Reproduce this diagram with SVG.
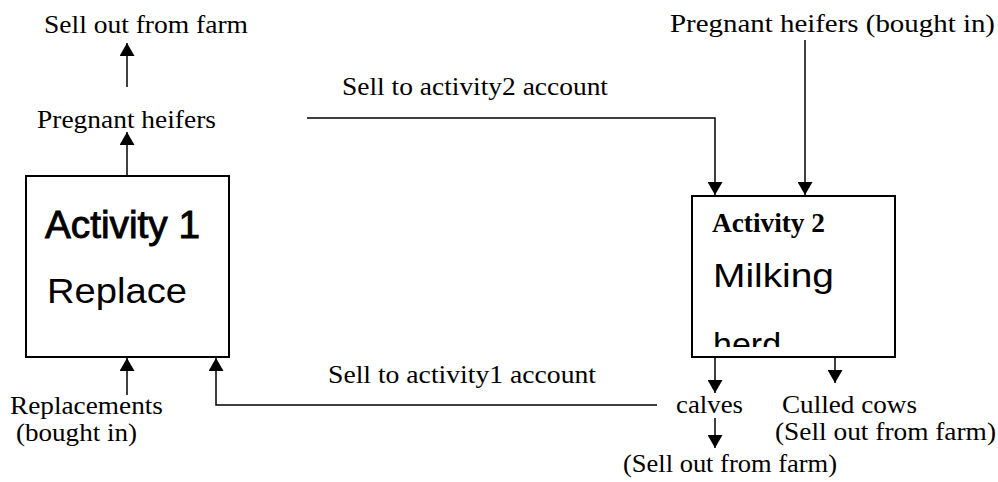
<svg xmlns="http://www.w3.org/2000/svg" width="998" height="482" viewBox="0 0 998 482">
  <style>
    .box { fill: #ffffff; stroke: #000000; stroke-width: 2; }
    .conn { fill: none; stroke: #000000; stroke-width: 1.5; }
    .lbl { font-family: "Liberation Serif", "Times New Roman", serif; font-size: 26px; fill: #000000; }
    .sans { font-family: "Liberation Sans", Arial, sans-serif; fill: #000000; }
  </style>
  <defs>
    <marker id="arrow" markerUnits="userSpaceOnUse" markerWidth="14" markerHeight="15" refX="13" refY="7.5" orient="auto">
      <path d="M0,0 L13,7.5 L0,15 z" fill="#000000"/>
    </marker>
    <clipPath id="clip2">
      <rect x="693" y="197" width="201" height="150"/>
    </clipPath>
  </defs>

  <g id="connectors">
    <line class="conn" x1="127" y1="87" x2="127" y2="43" marker-end="url(#arrow)"/>
    <line class="conn" x1="127" y1="176" x2="127" y2="132" marker-end="url(#arrow)"/>
    <line class="conn" x1="127" y1="395" x2="127" y2="358" marker-end="url(#arrow)"/>
    <polyline class="conn" points="657,405 216,405 216,358" marker-end="url(#arrow)"/>
    <polyline class="conn" points="307,118 715,118 715,195" marker-end="url(#arrow)"/>
    <line class="conn" x1="805" y1="40" x2="805" y2="195" marker-end="url(#arrow)"/>
    <line class="conn" x1="715" y1="357" x2="715" y2="393" marker-end="url(#arrow)"/>
    <line class="conn" x1="835" y1="357" x2="835" y2="383" marker-end="url(#arrow)"/>
    <line class="conn" x1="715" y1="418" x2="715" y2="448" marker-end="url(#arrow)"/>
  </g>

  <g id="activity1">
    <rect class="box" x="26" y="176" width="203" height="181"/>
    <text class="sans" x="45" y="238" font-size="38" stroke="#000000" stroke-width="0.9" textLength="155" lengthAdjust="spacingAndGlyphs">Activity 1</text>
    <text class="sans" x="47" y="303" font-size="35" textLength="140" lengthAdjust="spacingAndGlyphs">Replace</text>
  </g>

  <g id="activity2">
    <rect class="box" x="692" y="196" width="203" height="161"/>
    <text x="712" y="232" font-family="'Liberation Serif', 'Times New Roman', serif" font-size="27" font-weight="bold" textLength="113" lengthAdjust="spacingAndGlyphs">Activity 2</text>
    <g clip-path="url(#clip2)">
      <text class="sans" x="713" y="287" font-size="34" textLength="121" lengthAdjust="spacingAndGlyphs">Milking</text>
      <text class="sans" x="713" y="356" font-size="34">herd</text>
    </g>
  </g>

  <g id="sell-out-top">
    <text class="lbl" x="44" y="33" textLength="204" lengthAdjust="spacingAndGlyphs">Sell out from farm</text>
  </g>
  <g id="pregnant-heifers">
    <text class="lbl" x="37" y="128" textLength="179" lengthAdjust="spacingAndGlyphs">Pregnant heifers</text>
  </g>
  <g id="pregnant-heifers-bought">
    <text class="lbl" x="670" y="32" textLength="325" lengthAdjust="spacingAndGlyphs">Pregnant heifers (bought in)</text>
  </g>
  <g id="sell-activity2">
    <text class="lbl" x="342" y="95" textLength="266" lengthAdjust="spacingAndGlyphs">Sell to activity2 account</text>
  </g>
  <g id="sell-activity1">
    <text class="lbl" x="328" y="383" textLength="268" lengthAdjust="spacingAndGlyphs">Sell to activity1 account</text>
  </g>
  <g id="replacements">
    <text class="lbl" x="10" y="414" font-size="24" textLength="153" lengthAdjust="spacingAndGlyphs">Replacements</text>
    <text class="lbl" x="16" y="441" font-size="24" textLength="121" lengthAdjust="spacingAndGlyphs">(bought in)</text>
  </g>
  <g id="calves">
    <text class="lbl" x="676" y="413" textLength="67" lengthAdjust="spacingAndGlyphs">calves</text>
  </g>
  <g id="culled-cows">
    <text class="lbl" x="782" y="413" textLength="135" lengthAdjust="spacingAndGlyphs">Culled cows</text>
    <text class="lbl" x="775" y="440" textLength="221" lengthAdjust="spacingAndGlyphs">(Sell out from farm)</text>
  </g>
  <g id="calves-sell">
    <text class="lbl" x="623" y="472" textLength="214" lengthAdjust="spacingAndGlyphs">(Sell out from farm)</text>
  </g>
</svg>
